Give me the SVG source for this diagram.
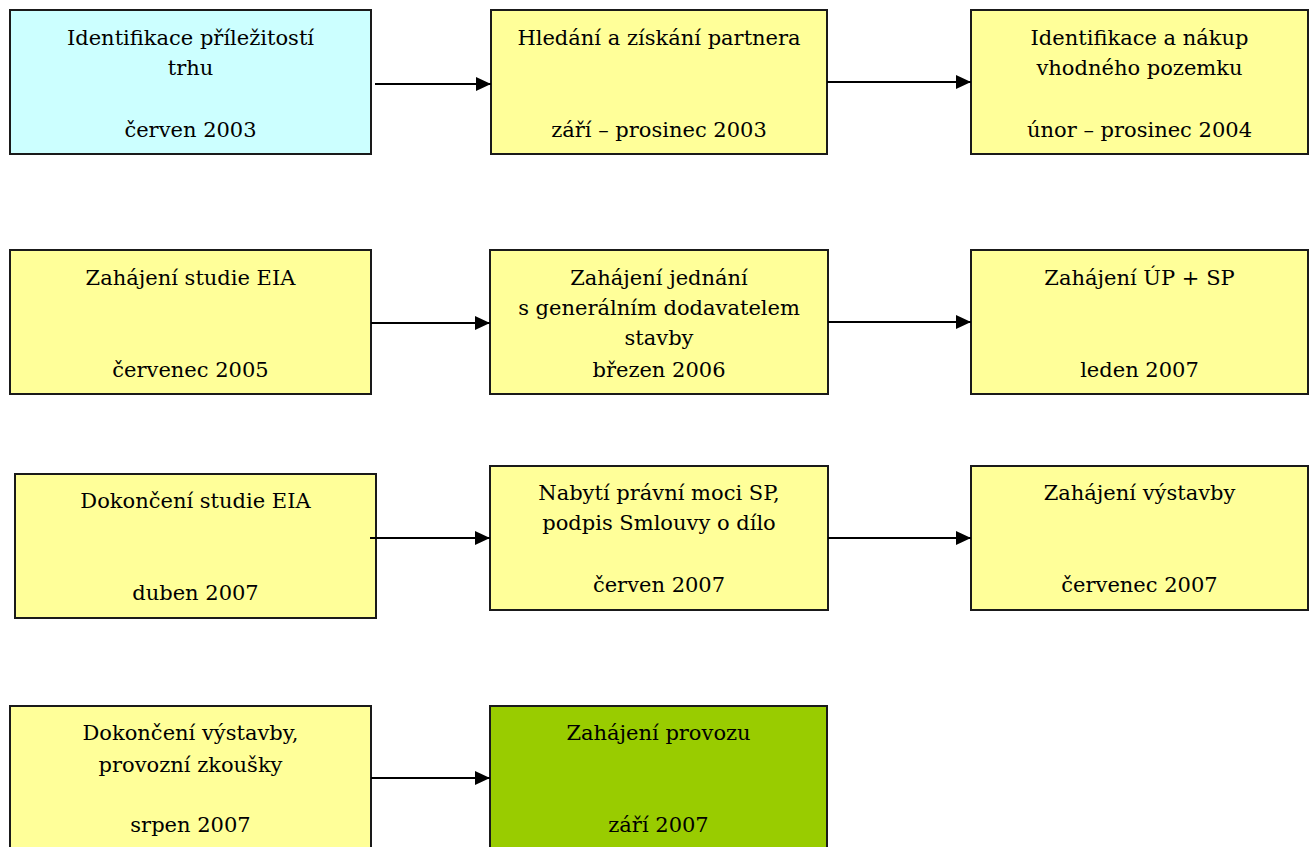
<svg xmlns="http://www.w3.org/2000/svg" width="1312" height="847" viewBox="0 0 1312 847">
<style>
.box{stroke:#1a1a1a;stroke-width:2}
.y{fill:#FFFF99}
.c{fill:#CCFFFF}
.g{fill:#99CC00}
text{font-family:"DejaVu Serif",serif;font-size:21px;fill:#000;text-anchor:middle}
.con{stroke:#000;stroke-width:2;fill:none;marker-end:url(#ah)}
</style>
<defs>
<marker id="ah" markerUnits="userSpaceOnUse" markerWidth="16" markerHeight="14" refX="15" refY="7" orient="auto">
<path d="M0,0 L15,7 L0,14 z" fill="#000"/>
</marker>
</defs>
<rect width="1312" height="847" fill="#fff"/>
<g id="n1"><rect class="box c" x="10" y="10" width="361" height="144"/>
<text x="190.5" y="45">Identifikace příležitostí</text><text x="190.5" y="75">trhu</text><text x="190.5" y="137">červen 2003</text></g>
<g id="n2"><rect class="box y" x="491" y="10" width="336" height="144"/>
<text x="659" y="45">Hledání a získání partnera</text><text x="659" y="137">září – prosinec 2003</text></g>
<g id="n3"><rect class="box y" x="971" y="10" width="337" height="144"/>
<text x="1139.5" y="45">Identifikace a nákup</text><text x="1139.5" y="75">vhodného pozemku</text><text x="1139.5" y="137">únor – prosinec 2004</text></g>
<g id="n4"><rect class="box y" x="10" y="250" width="361" height="144"/>
<text x="190.5" y="285">Zahájení studie EIA</text><text x="190.5" y="377">červenec 2005</text></g>
<g id="n5"><rect class="box y" x="490" y="250" width="338" height="144"/>
<text x="659" y="285">Zahájení jednání</text><text x="659" y="315">s generálním dodavatelem</text><text x="659" y="345">stavby</text><text x="659" y="377">březen 2006</text></g>
<g id="n6"><rect class="box y" x="971" y="250" width="337" height="144"/>
<text x="1139.5" y="285">Zahájení ÚP + SP</text><text x="1139.5" y="377">leden 2007</text></g>
<g id="n7"><rect class="box y" x="15" y="474" width="361" height="144"/>
<text x="195.5" y="508">Dokončení studie EIA</text><text x="195.5" y="600">duben 2007</text></g>
<g id="n8"><rect class="box y" x="490" y="466" width="338" height="144"/>
<text x="659" y="500">Nabytí právní moci SP,</text><text x="659" y="530">podpis Smlouvy o dílo</text><text x="659" y="592">červen 2007</text></g>
<g id="n9"><rect class="box y" x="971" y="466" width="337" height="144"/>
<text x="1139.5" y="500">Zahájení výstavby</text><text x="1139.5" y="592">červenec 2007</text></g>
<g id="n10"><rect class="box y" x="10" y="706" width="361" height="160"/>
<text x="190.5" y="740">Dokončení výstavby,</text><text x="190.5" y="772">provozní zkoušky</text><text x="190.5" y="832">srpen 2007</text></g>
<g id="n11"><rect class="box g" x="490" y="706" width="337" height="160"/>
<text x="658.5" y="740">Zahájení provozu</text><text x="658.5" y="832">září 2007</text></g>
<g id="connectors">
<line class="con" x1="375" y1="84" x2="491" y2="84"/>
<line class="con" x1="827" y1="82" x2="971" y2="82"/>
<line class="con" x1="371" y1="323" x2="490" y2="323"/>
<line class="con" x1="828" y1="322" x2="971" y2="322"/>
<line class="con" x1="370" y1="538" x2="490" y2="538"/>
<line class="con" x1="828" y1="538" x2="971" y2="538"/>
<line class="con" x1="371" y1="778" x2="490" y2="778"/>
</g>
</svg>
